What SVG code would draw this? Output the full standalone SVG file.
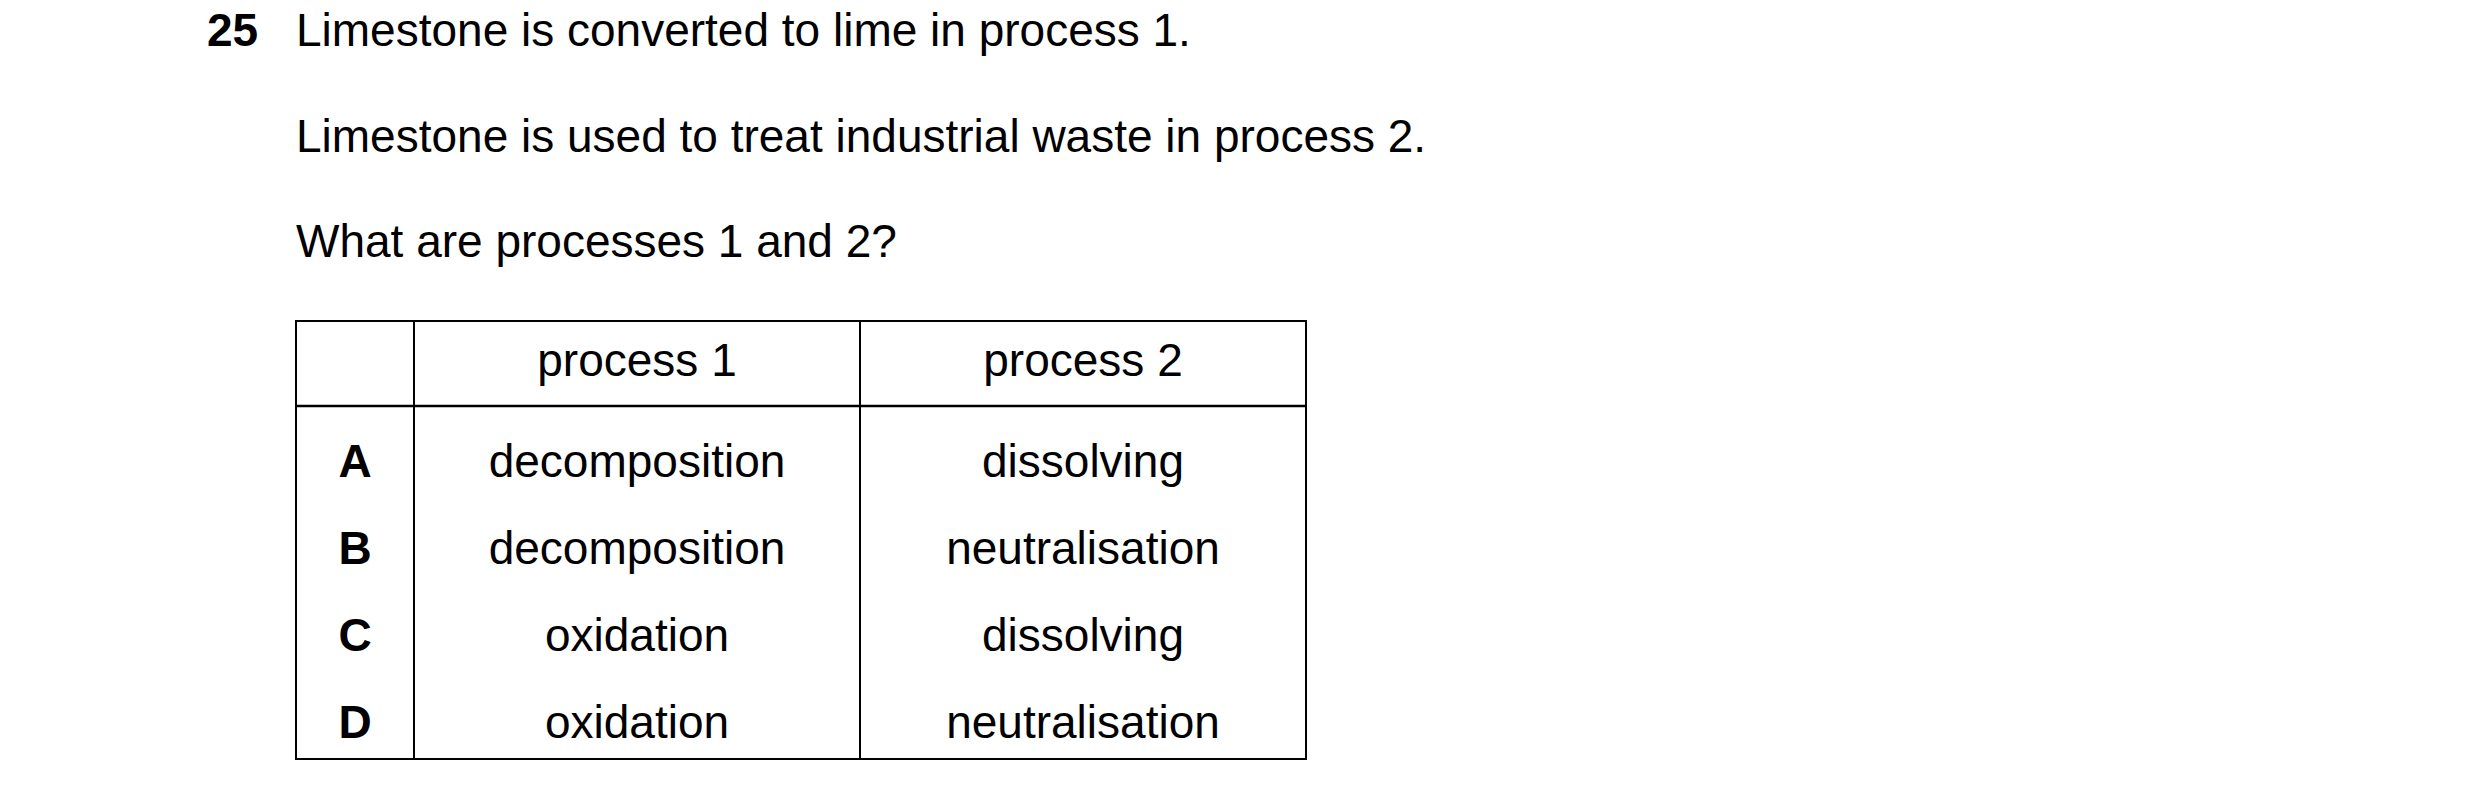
<svg xmlns="http://www.w3.org/2000/svg" width="2480" height="798" viewBox="0 0 2480 798">
<style>
text{font-family:"Liberation Sans",Arial,sans-serif;font-size:46px;fill:#000}
.b{font-weight:bold}
.c{text-anchor:middle}
line{stroke:#000;stroke-width:2}
</style>
<rect width="2480" height="798" fill="#fff"/>
<g id="question">
<text class="b" x="207" y="46">25</text>
<text x="296" y="46">Limestone is converted to lime in process 1.</text>
<text x="296" y="152">Limestone is used to treat industrial waste in process 2.</text>
<text x="296" y="257">What are processes 1 and 2?</text>
</g>
<g id="table">
<rect x="296" y="321" width="1010" height="438" fill="none" stroke="#000" stroke-width="2"/>
<line x1="414" y1="321" x2="414" y2="759"/>
<line x1="860" y1="321" x2="860" y2="759"/>
<line x1="296" y1="406" x2="1306" y2="406" style="stroke-width:2.5"/>
<text class="c" x="637" y="376">process 1</text>
<text class="c" x="1083" y="376">process 2</text>
<text class="b c" x="355" y="477">A</text>
<text class="c" x="637" y="477">decomposition</text>
<text class="c" x="1083" y="477">dissolving</text>
<text class="b c" x="355" y="564">B</text>
<text class="c" x="637" y="564">decomposition</text>
<text class="c" x="1083" y="564">neutralisation</text>
<text class="b c" x="355" y="651">C</text>
<text class="c" x="637" y="651">oxidation</text>
<text class="c" x="1083" y="651">dissolving</text>
<text class="b c" x="355" y="738">D</text>
<text class="c" x="637" y="738">oxidation</text>
<text class="c" x="1083" y="738">neutralisation</text>
</g>
</svg>
